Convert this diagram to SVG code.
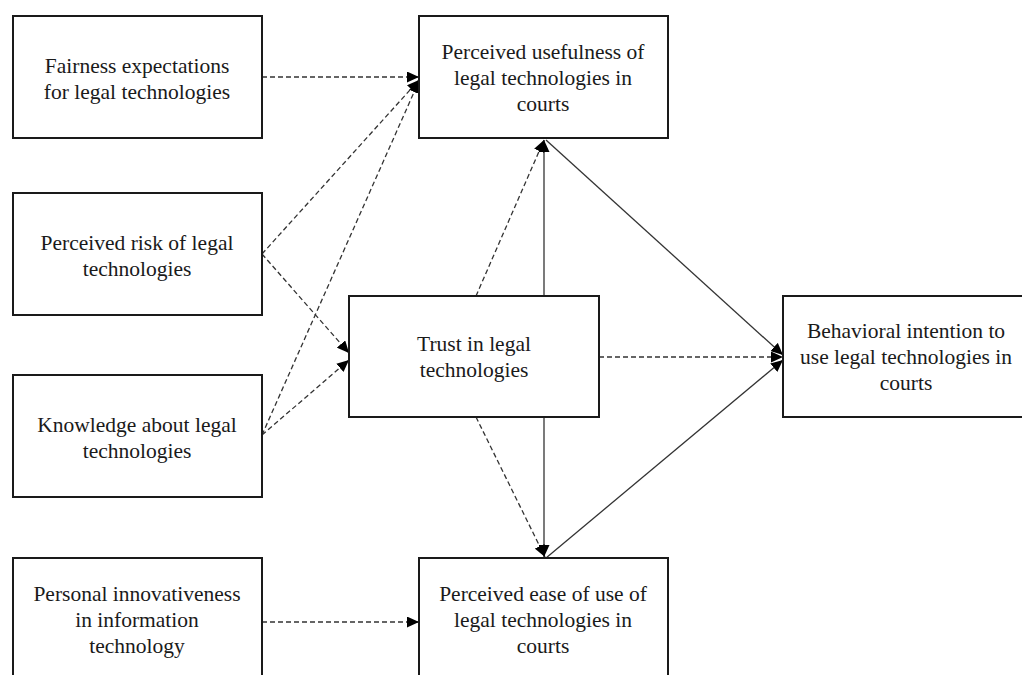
<svg xmlns="http://www.w3.org/2000/svg" width="1022" height="675" viewBox="0 0 1022 675">
<style>
.box{fill:#fff;stroke:#1a1a1a;stroke-width:2}
.t{font-family:"Liberation Serif","Times New Roman",serif;font-size:21.5px;fill:#1a1a1a;text-anchor:middle}
.dash{fill:none;stroke:#333;stroke-width:1.3;stroke-dasharray:5 3}
.solid{fill:none;stroke:#333;stroke-width:1.3}
</style>
<defs>
<marker id="ah" markerUnits="userSpaceOnUse" markerWidth="13" markerHeight="11" refX="12" refY="5.5" orient="auto">
<path d="M0,0 L12,5.5 L0,11 Z" fill="#000"/>
</marker>
</defs>
<rect x="0" y="0" width="1022" height="675" fill="#fff"/>
<g id="connectors">
<line class="dash" x1="262" y1="77" x2="419" y2="77" marker-end="url(#ah)"/>
<line class="dash" x1="262" y1="254" x2="419" y2="80" marker-end="url(#ah)"/>
<line class="dash" x1="262" y1="435" x2="419" y2="81" marker-end="url(#ah)"/>
<line class="dash" x1="262" y1="254" x2="349" y2="353" marker-end="url(#ah)"/>
<line class="dash" x1="262" y1="435" x2="349" y2="360" marker-end="url(#ah)"/>
<line class="dash" x1="476" y1="296" x2="544" y2="140" marker-end="url(#ah)"/>
<line class="solid" x1="544" y1="296" x2="544" y2="140" marker-end="url(#ah)"/>
<line class="solid" x1="546" y1="140" x2="783" y2="355" marker-end="url(#ah)"/>
<line class="dash" x1="599" y1="357" x2="783" y2="357" marker-end="url(#ah)"/>
<line class="solid" x1="546" y1="558" x2="783" y2="360" marker-end="url(#ah)"/>
<line class="dash" x1="476" y1="417" x2="545" y2="557" marker-end="url(#ah)"/>
<line class="solid" x1="544" y1="417" x2="544" y2="557" marker-end="url(#ah)"/>
<line class="dash" x1="262" y1="622" x2="419" y2="622" marker-end="url(#ah)"/>
</g>
<g id="fairness">
<rect class="box" x="13" y="16" width="249" height="122"/>
<text class="t" x="137" y="73">Fairness expectations</text>
<text class="t" x="137" y="99">for legal technologies</text>
</g>
<g id="risk">
<rect class="box" x="13" y="193" width="249" height="122"/>
<text class="t" x="137" y="250">Perceived risk of legal</text>
<text class="t" x="137" y="276">technologies</text>
</g>
<g id="knowledge">
<rect class="box" x="13" y="375" width="249" height="122"/>
<text class="t" x="137" y="432">Knowledge about legal</text>
<text class="t" x="137" y="458">technologies</text>
</g>
<g id="innovativeness">
<rect class="box" x="13" y="558" width="249" height="130"/>
<text class="t" x="137" y="601">Personal innovativeness</text>
<text class="t" x="137" y="627">in information</text>
<text class="t" x="137" y="653">technology</text>
</g>
<g id="usefulness">
<rect class="box" x="419" y="16" width="249" height="122"/>
<text class="t" x="543" y="59">Perceived usefulness of</text>
<text class="t" x="543" y="85">legal technologies in</text>
<text class="t" x="543" y="111">courts</text>
</g>
<g id="trust">
<rect class="box" x="349" y="296" width="250" height="121"/>
<text class="t" x="474" y="351">Trust in legal</text>
<text class="t" x="474" y="377">technologies</text>
</g>
<g id="ease">
<rect class="box" x="419" y="558" width="249" height="130"/>
<text class="t" x="543" y="601">Perceived ease of use of</text>
<text class="t" x="543" y="627">legal technologies in</text>
<text class="t" x="543" y="653">courts</text>
</g>
<g id="intention">
<rect class="box" x="783" y="296" width="250" height="121"/>
<text class="t" x="906" y="338">Behavioral intention to</text>
<text class="t" x="906" y="364">use legal technologies in</text>
<text class="t" x="906" y="390">courts</text>
</g>
</svg>
